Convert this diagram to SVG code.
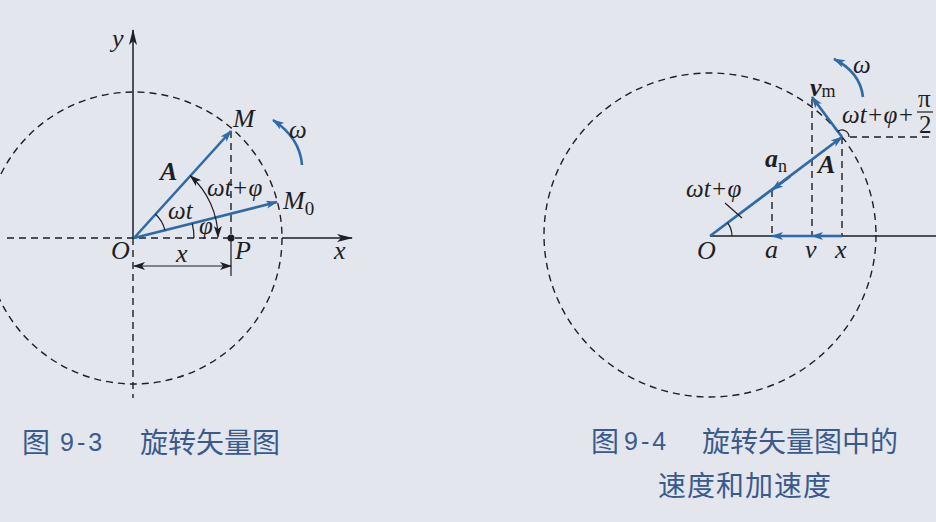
<svg xmlns="http://www.w3.org/2000/svg" width="936" height="522" viewBox="0 0 936 522">
<defs>
<marker id="ab" viewBox="0 0 12 8" refX="11" refY="4" markerWidth="12" markerHeight="8" markerUnits="userSpaceOnUse" orient="auto-start-reverse"><path d="M0,0 L12,4 L0,8 L3,4 Z" fill="#2f6aa8"/></marker>
<marker id="ak" viewBox="0 0 12 8" refX="11" refY="4" markerWidth="12" markerHeight="8" markerUnits="userSpaceOnUse" orient="auto-start-reverse"><path d="M0,0 L12,4 L0,8 L3,4 Z" fill="#1e1e24"/></marker>
<marker id="akl" viewBox="0 0 16 8" refX="15" refY="4" markerWidth="16" markerHeight="8" markerUnits="userSpaceOnUse" orient="auto-start-reverse"><path d="M0,0 L16,4 L0,8 L4,4 Z" fill="#1e1e24"/></marker>
</defs>
<style>
.bg{fill:#e3e6ec}
.dash{fill:none;stroke:#1e1e24;stroke-width:1.4;stroke-dasharray:7 5}
.solid{fill:none;stroke:#1e1e24;stroke-width:1.5}
.blue{fill:none;stroke:#2f6aa8;stroke-width:2.6}
.thin{fill:none;stroke:#1e1e24;stroke-width:1.2}
.t{font-family:"Liberation Serif",serif;font-style:italic;fill:#1e1e24;font-size:26px}
.s{font-family:"Liberation Serif",serif;font-style:italic;fill:#1e1e24;font-size:25px}
.b{font-weight:bold}
.up{font-style:normal}
.cap{font-family:"Noto Sans CJK SC",sans-serif;fill:#3a5a8c;font-size:28px}
.num{font-family:"Liberation Sans",sans-serif;font-size:25px;letter-spacing:3px}
</style>
<rect class="bg" x="0" y="0" width="936" height="522"/>

<g id="fig9-3">
  <g id="axes-left">
    <line class="solid" x1="133" y1="238" x2="133" y2="30" marker-end="url(#akl)"/>
    <line class="dash" x1="133" y1="238" x2="133" y2="398"/>
    <line class="dash" x1="7" y1="238" x2="282" y2="238"/>
    <line class="solid" x1="282" y1="238" x2="352" y2="238" marker-end="url(#akl)"/>
    <text class="t" x="112" y="47">y</text>
    <text class="t" x="334" y="259">x</text>
    <text class="t" x="111" y="259">O</text>
  </g>
  <ellipse id="circle-left" class="dash" cx="134" cy="238" rx="148" ry="146"/>
  <g id="projection-left">
    <line class="dash" x1="231" y1="131" x2="231" y2="238"/>
    <line class="thin" x1="231" y1="238" x2="231" y2="276"/>
    <line class="thin" x1="134" y1="266" x2="231" y2="266" marker-start="url(#ak)" marker-end="url(#ak)"/>
    <circle cx="231" cy="238" r="3.5" fill="#1e1e24"/>
    <text class="t" x="235" y="259">P</text>
    <text class="t" x="176" y="262">x</text>
  </g>
  <g id="vectors-left">
    <line class="blue" x1="134" y1="238" x2="231" y2="131" marker-end="url(#ab)"/>
    <line class="blue" x1="134" y1="238" x2="277" y2="202" marker-end="url(#ab)"/>
    <text class="t" x="233" y="127">M</text>
    <text class="t b" x="160" y="180">A</text>
    <text class="t" x="283" y="209">M<tspan class="up" font-size="19" dy="6">0</tspan></text>
  </g>
  <g id="angles-left">
    <path class="thin" d="M165,230.3 A32,32 0 0 0 155.5,214.3"/>
    <path class="thin" d="M194,238 A60,60 0 0 0 192.2,223.5"/>
    <path class="thin" d="M218,237 A84,84 0 0 0 190.4,175.8" marker-start="url(#ak)" marker-end="url(#ak)"/>
    <text class="s" x="168" y="219">ωt</text>
    <text class="s" x="199" y="234">φ</text>
    <text class="s" x="207" y="196">ωt+φ</text>
  </g>
  <g id="omega-left">
    <path class="blue" d="M302,165 Q300,138 273,120" marker-end="url(#ab)"/>
    <text class="s" x="289" y="138">ω</text>
  </g>
</g>

<g id="fig9-4">
  <ellipse id="circle-right" class="dash" cx="710" cy="235" rx="166" ry="162"/>
  <g id="axes-right">
    <line class="solid" x1="710" y1="236" x2="936" y2="236"/>
    <text class="t" x="697" y="259">O</text>
  </g>
  <g id="projection-right">
    <line class="dash" x1="812" y1="99" x2="812" y2="236"/>
    <line class="dash" x1="842" y1="137" x2="842" y2="236"/>
    <line class="dash" x1="772" y1="190" x2="772" y2="236"/>
    <line class="dash" x1="850" y1="137" x2="930" y2="137"/>
    <line class="blue" x1="842" y1="236" x2="812" y2="236" marker-end="url(#ab)"/>
    <line class="blue" x1="812" y1="236" x2="772" y2="236" marker-end="url(#ab)"/>
    <text class="t" x="765" y="258">a</text>
    <text class="t" x="805" y="258">v</text>
    <text class="t" x="835" y="258">x</text>
  </g>
  <g id="vectors-right">
    <line class="blue" x1="710" y1="236" x2="842" y2="137" marker-end="url(#ab)"/>
    <line class="blue" x1="790" y1="176.5" x2="772" y2="190" marker-end="url(#ab)"/>
    <line class="blue" x1="842" y1="137" x2="812" y2="97" marker-end="url(#ab)"/>
    <text class="t b" x="765" y="167">a<tspan class="up" font-weight="normal" font-size="18" dy="5">n</tspan></text>
    <text class="t b" x="818" y="173">A</text>
    <text class="t b" x="810" y="96">v<tspan class="up" font-weight="normal" font-size="18" dy="1">m</tspan></text>
  </g>
  <g id="angles-right">
    <path class="thin" d="M732,236 A22,22 0 0 0 727.6,222.8"/>
    <line class="thin" x1="725" y1="203" x2="742" y2="218"/>
    <text class="s" x="686" y="197">ωt+φ</text>
    <path class="thin" d="M849,137 A7,7 0 0 0 837.8,131.4"/>
    <text class="s" x="842" y="123">ωt+φ+</text>
    <text class="s up" x="918" y="107" font-size="17">π</text>
    <line class="thin" x1="917" y1="112" x2="933" y2="112"/>
    <text class="s up" x="919" y="133" font-size="19">2</text>
  </g>
  <g id="omega-right">
    <path class="blue" d="M863,97 Q860,72 834,59" marker-end="url(#ab)"/>
    <text class="s" x="853" y="73">ω</text>
  </g>
</g>

<g id="captions">
  <text class="cap" x="22" y="453">图<tspan class="num" x="60" y="451">9-3</tspan><tspan x="140" y="453">旋转矢量图</tspan></text>
  <text class="cap" x="591" y="452">图<tspan class="num" x="624" y="450">9-4</tspan><tspan x="702" y="452">旋转矢量图中的</tspan></text>
  <text class="cap" x="658" y="496" letter-spacing="1">速度和加速度</text>
</g>
</svg>
